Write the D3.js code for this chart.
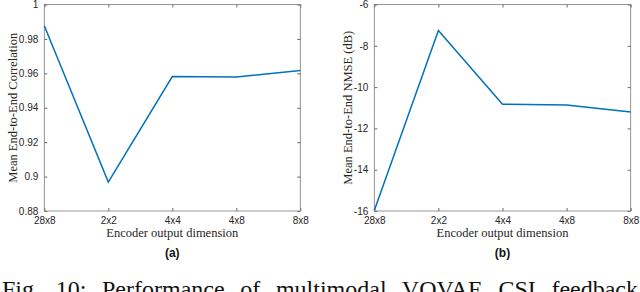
<!DOCTYPE html>
<html>
<head>
<meta charset="utf-8">
<script src="https://cdn.jsdelivr.net/npm/d3@7"></script>
<style>
  body { margin: 0; background: #fff; }
  svg { display: block; }
</style>
</head>
<body>
<svg id="fig" width="640" height="292"></svg>
<script>
const dims = ['28x8', '2x2', '4x4', '4x8', '8x8'];
const corrValues = [0.9877, 0.8968, 0.9581, 0.9579, 0.9616];
const nmseValues = [-15.98, -7.26, -10.83, -10.87, -11.21];
const corrTicks = [0.88, 0.9, 0.92, 0.94, 0.96, 0.98, 1];
const nmseTicks = [-16, -14, -12, -10, -8, -6];
const xLabel = 'Encoder output dimension';
const caption = 'Fig. 10: Performance of multimodal VQVAE CSI feedback';

const svg = d3.select('#fig');
const plotTop = 4.5, plotBottom = 211;
const tickFmt = d => String(+d.toFixed(2));

const drawPanel = (p) => {
  const x = d3.scalePoint().domain(dims).range([p.left, p.right]);
  const y = d3.scaleLinear().domain(d3.extent(p.ticks)).range([plotBottom, plotTop]);
  const g = svg.append('g');

  const styleAxis = sel => {
    sel.attr('font-family', null).attr('font-size', null);
    sel.select('.domain').remove();
    sel.selectAll('line').attr('stroke', '#262626').attr('stroke-width', 0.7);
    sel.selectAll('text')
      .attr('fill', '#262626')
      .style('font-family', '"Liberation Sans", Arial, sans-serif')
      .style('font-size', '10px');
  };

  g.append('g')
    .attr('transform', 'translate(' + p.left + ',0)')
    .call(d3.axisLeft(y).tickValues(p.ticks).tickFormat(tickFmt).tickSize(-3).tickPadding(6))
    .call(styleAxis);
  g.append('g')
    .attr('transform', 'translate(' + p.right + ',0)')
    .call(d3.axisRight(y).tickValues(p.ticks).tickFormat('').tickSize(-3))
    .call(styleAxis);
  g.append('g')
    .attr('transform', 'translate(0,' + plotBottom + ')')
    .call(d3.axisBottom(x).tickSize(-3).tickPadding(6))
    .call(styleAxis);
  g.append('g')
    .attr('transform', 'translate(0,' + plotTop + ')')
    .call(d3.axisTop(x).tickFormat('').tickSize(-3))
    .call(styleAxis);

  // box
  g.append('rect')
    .attr('x', p.left)
    .attr('y', plotTop)
    .attr('width', p.right - p.left)
    .attr('height', plotBottom - plotTop)
    .attr('fill', 'none')
    .attr('stroke', '#7a7a7a')
    .attr('stroke-width', 0.8);

  const line = d3.line()
    .x((d, i) => x(dims[i]))
    .y(d => y(d));

  g.append('path')
    .datum(p.values)
    .attr('d', line)
    .attr('fill', 'none')
    .attr('stroke', '#0072BD')
    .attr('stroke-width', 1.5)
    .attr('stroke-linejoin', 'miter');

  const cx = (p.left + p.right) / 2;

  g.append('text')
    .attr('x', cx)
    .attr('y', 237)
    .attr('text-anchor', 'middle')
    .style('font-family', '"Liberation Serif", "Times New Roman", serif')
    .style('font-size', '12.5px')
    .attr('fill', '#262626')
    .text(xLabel);

  g.append('text')
    .attr('transform', 'translate(' + p.yLabelX + ',' + (plotTop + plotBottom) / 2 + ') rotate(-90)')
    .attr('text-anchor', 'middle')
    .attr('dy', '0.35em')
    .style('font-family', '"Liberation Serif", "Times New Roman", serif')
    .style('font-size', '12.5px')
    .attr('fill', '#262626')
    .text(p.yLabel);

  g.append('text')
    .attr('x', cx)
    .attr('y', 256.5)
    .attr('text-anchor', 'middle')
    .style('font-family', '"Liberation Sans", Arial, sans-serif')
    .style('font-size', '12px')
    .style('font-weight', 'bold')
    .attr('fill', '#111')
    .text(p.tag);
};

drawPanel({
  left: 44.3, right: 300.3, ticks: corrTicks, values: corrValues,
  yLabel: 'Mean End-to-End Correlation', yLabelX: 13, tag: '(a)'
});
drawPanel({
  left: 374.3, right: 630.7, ticks: nmseTicks, values: nmseValues,
  yLabel: 'Mean End-to-End NMSE (dB)', yLabelX: 347.5, tag: '(b)'
});

// caption, justified across the line
const cap = svg.append('text')
  .attr('x', 2)
  .attr('y', 297)
  .style('font-family', '"Liberation Serif", "Times New Roman", serif')
  .style('font-size', '24px')
  .attr('fill', '#111')
  .text(caption);
const natural = cap.node().getComputedTextLength();
const gaps = caption.split(' ').length - 1;
cap.style('word-spacing', ((638 - 2 - natural) / gaps) + 'px');
</script>
</body>
</html>
